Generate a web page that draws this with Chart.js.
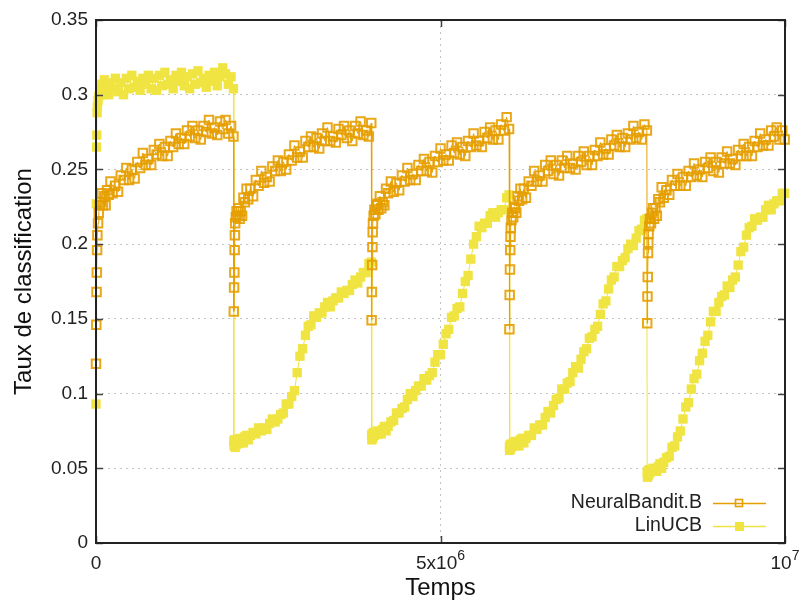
<!DOCTYPE html>
<html>
<head>
<meta charset="utf-8">
<script src="https://cdn.jsdelivr.net/npm/chart.js@4.4.1/dist/chart.umd.min.js"></script>
<style>
  html, body { margin: 0; padding: 0; background: #fff; }
  #wrap { width: 803px; height: 603px; }
</style>
</head>
<body>
<div id="wrap"><canvas id="chart" width="803" height="603"></canvas></div>
<script>
// the environment changes every 2e6 steps; samples at these offsets (thousands of steps) in each run
const segmentStarts = [0, 2e6, 4e6, 6e6, 8e6];
const offsets = [
  0, 4, 8, 12, 16, 20, 30, 40, 55, 70,
  85, 100, 120, 140, 160, 185, 210, 240, 280, 320,
  360, 400, 440, 480, 520, 560, 600, 640, 680, 720,
  760, 800, 840, 880, 920, 960, 1000, 1040, 1080, 1120,
  1160, 1200, 1240, 1280, 1320, 1360, 1400, 1440, 1480, 1520,
  1560, 1600, 1640, 1680, 1720, 1760, 1800, 1840, 1880, 1920,
  1960, 1995
];

const neuralBandit = [
  // 0 - 2e6
  0.120, 0.146, 0.168, 0.181, 0.196, 0.206, 0.214, 0.221, 0.226, 0.228,
  0.234, 0.226, 0.232, 0.226, 0.236, 0.233, 0.242, 0.234, 0.239, 0.235,
  0.246, 0.243, 0.251, 0.243, 0.250, 0.244, 0.255, 0.251, 0.261, 0.253,
  0.257, 0.253, 0.263, 0.260, 0.267, 0.259, 0.265, 0.259, 0.269, 0.265,
  0.274, 0.267, 0.271, 0.267, 0.276, 0.272, 0.279, 0.271, 0.276, 0.270,
  0.279, 0.275, 0.283, 0.274, 0.278, 0.273, 0.282, 0.277, 0.283, 0.274,
  0.279, 0.272,
  // 2e6 - 4e6
  0.155, 0.171, 0.181, 0.196, 0.206, 0.214, 0.218, 0.222, 0.219, 0.224,
  0.217, 0.222, 0.219, 0.231, 0.228, 0.237, 0.230, 0.237, 0.232, 0.243,
  0.239, 0.249, 0.241, 0.245, 0.242, 0.252, 0.249, 0.256, 0.249, 0.255,
  0.250, 0.260, 0.256, 0.266, 0.258, 0.262, 0.258, 0.269, 0.265, 0.272,
  0.265, 0.271, 0.264, 0.274, 0.269, 0.278, 0.269, 0.272, 0.268, 0.277,
  0.273, 0.279, 0.271, 0.276, 0.269, 0.279, 0.274, 0.282, 0.273, 0.276,
  0.272, 0.281,
  // 4e6 - 6e6
  0.149, 0.168, 0.186, 0.198, 0.208, 0.214, 0.219, 0.223, 0.220, 0.226,
  0.227, 0.223, 0.232, 0.224, 0.228, 0.226, 0.237, 0.234, 0.242, 0.235,
  0.241, 0.236, 0.246, 0.242, 0.251, 0.243, 0.247, 0.243, 0.253, 0.249,
  0.257, 0.249, 0.255, 0.248, 0.259, 0.255, 0.264, 0.256, 0.260, 0.256,
  0.266, 0.261, 0.268, 0.260, 0.265, 0.259, 0.269, 0.265, 0.274, 0.266,
  0.269, 0.265, 0.275, 0.271, 0.278, 0.270, 0.276, 0.270, 0.280, 0.276,
  0.285, 0.277,
  // 6e6 - 8e6
  0.143, 0.166, 0.183, 0.196, 0.205, 0.211, 0.216, 0.221, 0.218, 0.225,
  0.224, 0.221, 0.232, 0.229, 0.237, 0.230, 0.237, 0.231, 0.242, 0.239,
  0.249, 0.242, 0.246, 0.242, 0.253, 0.249, 0.256, 0.247, 0.253, 0.246,
  0.256, 0.251, 0.259, 0.251, 0.254, 0.250, 0.259, 0.255, 0.262, 0.253,
  0.259, 0.253, 0.263, 0.259, 0.268, 0.260, 0.264, 0.260, 0.270, 0.266,
  0.273, 0.265, 0.271, 0.265, 0.274, 0.270, 0.279, 0.271, 0.275, 0.270,
  0.280, 0.276,
  // 8e6 - 1e7
  0.147, 0.165, 0.178, 0.194, 0.201, 0.207, 0.212, 0.217, 0.214, 0.221,
  0.224, 0.217, 0.224, 0.219, 0.230, 0.228, 0.238, 0.231, 0.236, 0.233,
  0.243, 0.239, 0.247, 0.239, 0.245, 0.239, 0.249, 0.245, 0.254, 0.246,
  0.250, 0.245, 0.255, 0.251, 0.258, 0.249, 0.255, 0.248, 0.258, 0.254,
  0.262, 0.254, 0.257, 0.253, 0.263, 0.259, 0.267, 0.259, 0.265, 0.259,
  0.269, 0.265, 0.274, 0.266, 0.270, 0.266, 0.276, 0.272, 0.278, 0.270,
  0.276, 0.270
];

const linUCB = [
  // 0 - 2e6
  0.093, 0.227, 0.265, 0.273, 0.288, 0.292, 0.296, 0.299, 0.301, 0.303,
  0.307, 0.300, 0.310, 0.302, 0.305, 0.300, 0.308, 0.304, 0.311, 0.302,
  0.308, 0.300, 0.311, 0.304, 0.313, 0.305, 0.309, 0.303, 0.311, 0.307,
  0.313, 0.304, 0.311, 0.303, 0.313, 0.306, 0.315, 0.307, 0.310, 0.304,
  0.313, 0.309, 0.315, 0.306, 0.312, 0.304, 0.314, 0.307, 0.316, 0.308,
  0.311, 0.305, 0.313, 0.309, 0.315, 0.306, 0.312, 0.318, 0.314, 0.307,
  0.312, 0.304,
  // 2e6 - 4e6
  0.068, 0.065, 0.069, 0.066, 0.068, 0.064, 0.069, 0.066, 0.068, 0.067,
  0.070, 0.067, 0.069, 0.067, 0.071, 0.072, 0.069, 0.072, 0.074, 0.073,
  0.077, 0.075, 0.077, 0.076, 0.080, 0.083, 0.081, 0.083, 0.086, 0.087,
  0.093, 0.093, 0.098, 0.102, 0.114, 0.125, 0.130, 0.139, 0.145, 0.146,
  0.152, 0.151, 0.154, 0.154, 0.158, 0.161, 0.158, 0.162, 0.164, 0.164,
  0.168, 0.167, 0.169, 0.169, 0.173, 0.176, 0.174, 0.178, 0.181, 0.181,
  0.187, 0.188,
  // 4e6 - 6e6
  0.072, 0.069, 0.073, 0.070, 0.073, 0.071, 0.074, 0.072, 0.074, 0.073,
  0.075, 0.073, 0.074, 0.073, 0.076, 0.078, 0.075, 0.078, 0.081, 0.082,
  0.087, 0.087, 0.090, 0.091, 0.096, 0.100, 0.098, 0.102, 0.105, 0.105,
  0.110, 0.109, 0.112, 0.114, 0.121, 0.126, 0.126, 0.133, 0.140, 0.143,
  0.151, 0.152, 0.157, 0.158, 0.167, 0.175, 0.179, 0.190, 0.200, 0.205,
  0.212, 0.211, 0.214, 0.214, 0.219, 0.221, 0.218, 0.221, 0.223, 0.223,
  0.231, 0.233,
  // 6e6 - 8e6
  0.064, 0.062, 0.065, 0.063, 0.066, 0.064, 0.066, 0.065, 0.067, 0.066,
  0.068, 0.065, 0.067, 0.065, 0.069, 0.070, 0.067, 0.070, 0.072, 0.072,
  0.077, 0.076, 0.079, 0.079, 0.084, 0.088, 0.087, 0.092, 0.096, 0.097,
  0.103, 0.103, 0.107, 0.108, 0.114, 0.118, 0.117, 0.123, 0.128, 0.130,
  0.137, 0.138, 0.143, 0.145, 0.153, 0.160, 0.162, 0.170, 0.176, 0.178,
  0.185, 0.185, 0.189, 0.191, 0.197, 0.200, 0.199, 0.204, 0.209, 0.210,
  0.216, 0.217,
  // 8e6 - 1e7
  0.047, 0.044, 0.048, 0.045, 0.048, 0.046, 0.049, 0.047, 0.049, 0.048,
  0.050, 0.048, 0.049, 0.048, 0.051, 0.053, 0.050, 0.054, 0.057, 0.058,
  0.064, 0.065, 0.071, 0.075, 0.083, 0.091, 0.094, 0.103, 0.110, 0.113,
  0.122, 0.127, 0.135, 0.139, 0.148, 0.155, 0.155, 0.161, 0.165, 0.166,
  0.172, 0.171, 0.176, 0.178, 0.186, 0.195, 0.198, 0.206, 0.211, 0.212,
  0.217, 0.216, 0.218, 0.218, 0.223, 0.226, 0.223, 0.227, 0.229, 0.229,
  0.234, 0.234
];

const seriesLabels = ['NeuralBandit.B', 'LinUCB'];
const yTicks = [0, 0.05, 0.1, 0.15, 0.2, 0.25, 0.3, 0.35];
const xTicks = [0, 5e6, 1e7];
const xTickLabels = [['0', ''], ['5x10', '6'], ['10', '7']];

const temps = segmentStarts.flatMap(s => offsets.map(o => s + o * 1000));
const toPoints = arr => arr.map((v, i) => ({ x: temps[i], y: v }));

const orange = '#E69F00';
const yellow = '#F0E442';
const FONT = '"Liberation Sans", Arial, sans-serif';
Chart.defaults.font.family = FONT;

// box, inward tics, x labels with exponents, gnuplot-style key
const framePlugin = {
  id: 'frame',
  afterDraw(chart) {
    const ctx = chart.ctx;
    const { left, right, top, bottom } = chart.chartArea;
    const xs = chart.scales.x, ys = chart.scales.y;
    ctx.save();

    ctx.strokeStyle = '#444';
    ctx.lineWidth = 1.5;
    ctx.beginPath();
    yTicks.forEach(v => {
      const py = Math.round(ys.getPixelForValue(v)) + 0.5;
      ctx.moveTo(left, py); ctx.lineTo(left + 7, py);
      ctx.moveTo(right, py); ctx.lineTo(right - 7, py);
    });
    xTicks.forEach(v => {
      const px = Math.round(xs.getPixelForValue(v)) + 0.5;
      ctx.moveTo(px, bottom); ctx.lineTo(px, bottom - 7);
      ctx.moveTo(px, top); ctx.lineTo(px, top + 7);
    });
    ctx.stroke();

    ctx.strokeStyle = '#222';
    ctx.lineWidth = 2;
    ctx.strokeRect(left, top, right - left, bottom - top);

    // x tick labels
    ctx.fillStyle = '#222';
    ctx.textBaseline = 'middle';
    ctx.textAlign = 'left';
    xTicks.forEach((v, i) => {
      const [base, sup] = xTickLabels[i];
      ctx.font = '19px ' + FONT;
      const wb = ctx.measureText(base).width;
      ctx.font = '14px ' + FONT;
      const ws = sup ? ctx.measureText(sup).width : 0;
      const x0 = xs.getPixelForValue(v) - (wb + ws) / 2;
      ctx.font = '19px ' + FONT;
      ctx.fillText(base, x0, bottom + 21);
      if (sup) {
        ctx.font = '14px ' + FONT;
        ctx.fillText(sup, x0 + wb, bottom + 13);
      }
    });

    // key
    ctx.font = '19.5px ' + FONT;
    ctx.textAlign = 'right';
    chart.data.datasets.forEach((ds, i) => {
      const y = 503 + i * 23;
      ctx.fillStyle = '#222';
      ctx.fillText(ds.label, 702, y);
      ctx.strokeStyle = ds.borderColor;
      ctx.lineWidth = 1.5;
      ctx.beginPath();
      ctx.moveTo(713, y + 0.5); ctx.lineTo(766, y + 0.5);
      ctx.stroke();
      if (i === 0) {
        ctx.lineWidth = 1.6;
        ctx.strokeRect(735.5, y - 3.5, 7, 7);
      } else {
        ctx.fillStyle = ds.pointBackgroundColor;
        ctx.fillRect(735, y - 4, 9, 9);
      }
    });
    ctx.restore();
  }
};

const ctx = document.getElementById('chart').getContext('2d');
new Chart(ctx, {
  type: 'line',
  data: {
    datasets: [
      {
        label: seriesLabels[0],
        data: toPoints(neuralBandit),
        borderColor: orange,
        borderWidth: 1,
        pointStyle: 'rect',
        pointRadius: 6,
        pointBorderWidth: 2,
        pointBorderColor: 'rgba(230, 159, 0, 0.9)',
        pointBackgroundColor: 'rgba(0,0,0,0)',
        tension: 0,
        clip: false
      },
      {
        label: seriesLabels[1],
        data: toPoints(linUCB),
        borderColor: yellow,
        borderWidth: 1,
        pointStyle: 'rect',
        pointRadius: 6.6,
        pointBorderWidth: 0,
        pointBorderColor: yellow,
        pointBackgroundColor: yellow,
        tension: 0,
        clip: false
      }
    ]
  },
  options: {
    responsive: false,
    animation: false,
    layout: { padding: { top: 20, right: 18, left: 0, bottom: 0 } },
    plugins: {
      legend: { display: false },
      tooltip: { enabled: false }
    },
    scales: {
      x: {
        type: 'linear',
        min: 0,
        max: 1e7,
        afterBuildTicks: s => { s.ticks = xTicks.map(v => ({ value: v })); },
        afterFit: s => { s.height = 60; },
        ticks: { display: false },
        grid: {
          drawTicks: false,
          lineWidth: 1,
          color: c => (c.tick && c.tick.value === 5e6) ? '#c4c4c4' : 'rgba(0,0,0,0)'
        },
        border: { display: false, dash: [2, 4] },
        title: {
          display: true,
          text: 'Temps',
          color: '#111',
          font: { size: 24 },
          padding: { top: 0, bottom: 0 }
        }
      },
      y: {
        min: 0,
        max: 0.35,
        afterBuildTicks: s => { s.ticks = yTicks.map(v => ({ value: v })); },
        afterFit: s => { s.width = 96; },
        ticks: {
          color: '#222',
          font: { size: 19 },
          padding: 8,
          callback: v => String(+v.toFixed(2))
        },
        grid: {
          drawTicks: false,
          lineWidth: 1,
          color: c => (c.tick && c.tick.value > 0 && c.tick.value < 0.35) ? '#c4c4c4' : 'rgba(0,0,0,0)'
        },
        border: { display: false, dash: [2, 4] },
        title: {
          display: true,
          text: 'Taux de classification',
          color: '#111',
          font: { size: 24 },
          padding: { top: 10, bottom: 0 }
        }
      }
    }
  },
  plugins: [framePlugin]
});
</script>
</body>
</html>
